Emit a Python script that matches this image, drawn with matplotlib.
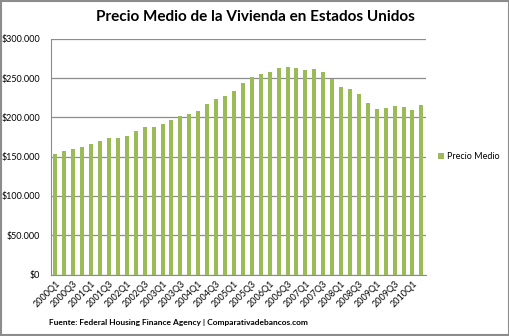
import matplotlib
matplotlib.use("Agg")
import matplotlib.pyplot as plt
from matplotlib.ticker import FuncFormatter
import numpy as np

plt.rcParams['font.family'] = ['Lato', 'DejaVu Sans']

# quarterly average house price, 2000Q1 .. 2010Q2
quarters = []
for yr in range(2000, 2011):
    for q in range(1, 5):
        quarters.append(str(yr) + "Q" + str(q))
quarters = quarters[:42]

precio = [153000, 156700, 160500, 163000, 165600, 169500, 173300, 174500,
          177000, 183000, 187300, 188500, 191500, 196200, 201700, 204200,
          208000, 217000, 223300, 228000, 233700, 243600, 251300, 255500,
          258000, 263600, 264000, 262700, 261000, 261500, 258000, 249000,
          239400, 236400, 229600, 218000, 210500, 212000, 214300, 213000,
          209300, 215300]

fig = plt.figure(figsize=(5.1, 3.36), dpi=100)
ax = fig.add_axes([0.1, 0.183, 0.735, 0.701])

x = np.arange(len(precio))
ax.bar(x, precio, width=0.45, color='#9BBB59', label='Precio Medio', zorder=3)

ax.set_ylim(0, 300000)
ax.set_yticks(np.arange(0, 300001, 50000))
ax.yaxis.set_major_formatter(FuncFormatter(lambda v, p: "$" + format(int(v), ",").replace(",", ".")))
ax.set_xlim(-0.5, len(precio) - 0.5)
ax.set_xticks(x[::2])
ax.set_xticklabels(quarters[::2], rotation=45, ha='right', rotation_mode='anchor', fontsize=6.5)
ax.tick_params(axis='y', labelsize=6.5, length=0, pad=8)
ax.tick_params(axis='x', length=0, pad=3)
ax.grid(axis='y', color='#8c8c8c', linewidth=0.9, zorder=0)

for s in ['top', 'right']:
    ax.spines[s].set_visible(False)
ax.spines['left'].set_color('#8c8c8c')
ax.spines['bottom'].set_color('#8c8c8c')

fig.text(0.5, 0.95, "Precio Medio de la Vivienda en Estados Unidos", ha='center', va='center',
         fontsize=11, fontweight='bold')
fig.text(0.096, 0.04, "Fuente: Federal Housing Finance Agency | Comparativadebancos.com",
         ha='left', va='center', fontsize=6, fontweight='bold')

ax.legend(loc='center left', bbox_to_anchor=(1.01, 0.5), frameon=False, fontsize=6.5,
          handlelength=0.7, handleheight=0.7, handletextpad=0.3)

fig.patches.append(plt.Rectangle((0.001, 0.002), 0.997, 0.995, transform=fig.transFigure,
                                 fill=False, edgecolor='#8c8c8c', linewidth=1.5))

fig.savefig("out.png", dpi=100)
